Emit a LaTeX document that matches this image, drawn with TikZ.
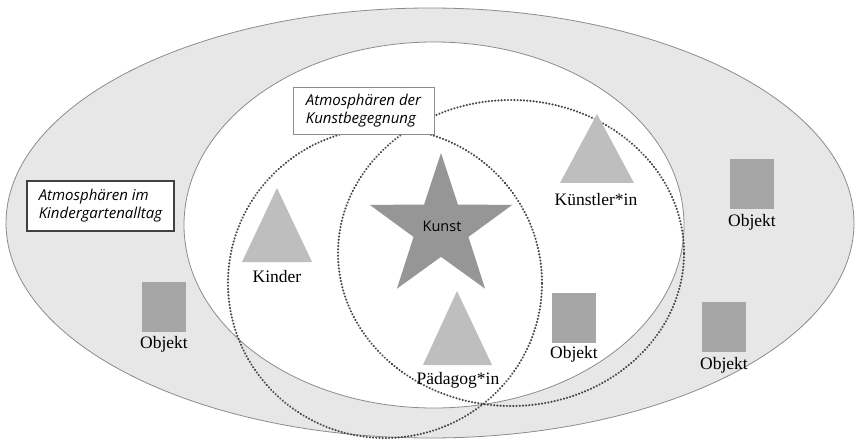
\documentclass[tikz,border=0pt]{standalone}
\usepackage{fontspec}
\setmainfont{Liberation Serif}
\newfontfamily\labsans{Open Sans}
\usetikzlibrary{shapes.geometric}
\definecolor{outerfill}{RGB}{231,231,231}
\definecolor{edgegray}{RGB}{140,140,140}
\definecolor{trigray}{RGB}{190,190,190}
\definecolor{objgray}{RGB}{166,166,166}
\definecolor{stargray}{RGB}{150,150,150}
\definecolor{dotgray}{RGB}{70,70,70}
\begin{document}
\begin{tikzpicture}[x=1pt,y=-1pt,
  zone/.style={draw=edgegray,line width=0.8pt},
  dotzone/.style={draw=dotgray,line width=2.2pt,line cap=round,dash pattern=on 0.2pt off 3pt},
  tri/.style={fill=trigray,draw=none},
  obj/.style={fill=objgray,draw=none,minimum width=44pt,minimum height=50pt,inner sep=0pt},
  lab/.style={font=\fontsize{17.5}{19}\selectfont,inner sep=0pt},
  boxlab/.style={font=\labsans\itshape\fontsize{15}{18}\selectfont,fill=white,align=left,inner sep=0pt}
]
\useasboundingbox (0,0) rectangle (857,441);
% zones
\path[zone,fill=outerfill] (430,223) ellipse [x radius=424pt,y radius=215pt];
\path[zone,fill=white] (434,225) ellipse [x radius=250pt,y radius=183pt];
\path[dotzone] (385,283) ellipse [x radius=157pt,y radius=155pt];
\path[dotzone] (511,253) ellipse [x radius=173pt,y radius=153pt];
% boxes
\node[boxlab,draw=edgegray,line width=0.8pt,minimum width=141pt,minimum height=47pt] (kb) at (363.5,110.5) {Atmosphären der\\Kunstbegegnung};
\node[boxlab,draw=black!75,line width=1.4pt,minimum width=147pt,minimum height=50pt] (ka) at (100.5,206) {Atmosphären im\\Kindergartenalltag};
% star
\node[star,star points=5,star point ratio=2.6,minimum size=150pt,inner sep=0pt,fill=stargray] (kunst) at (441,228) {};
\node[font=\labsans\fontsize{14.5}{16}\selectfont,inner sep=0pt] (kunstlab) at (442,226) {Kunst};
% triangles
\coordinate (kinA) at (277,188);
\fill[tri] (kinA) -- (312,262) -- (242,262) -- cycle;
\node[lab] (kinder) at (277,277) {Kinder};
\coordinate (kueA) at (597,114);
\fill[tri] (kueA) -- (634,183) -- (560,183) -- cycle;
\node[lab] (kuenstler) at (596,200) {Künstler*in};
\coordinate (paeA) at (457,291);
\fill[tri] (paeA) -- (492,365) -- (423,365) -- cycle;
\node[lab] (paedagog) at (458,380) {Pädagog*in};
% objects
\node[obj] (o1) at (164,307) {};
\node[lab] (o1l) at (164,344) {Objekt};
\node[obj] (o2) at (574,318) {};
\node[lab] (o2l) at (574,354) {Objekt};
\node[obj] (o3) at (752,184) {};
\node[lab] (o3l) at (752,222) {Objekt};
\node[obj] (o4) at (724,327) {};
\node[lab] (o4l) at (724,365) {Objekt};
\end{tikzpicture}
\end{document}
